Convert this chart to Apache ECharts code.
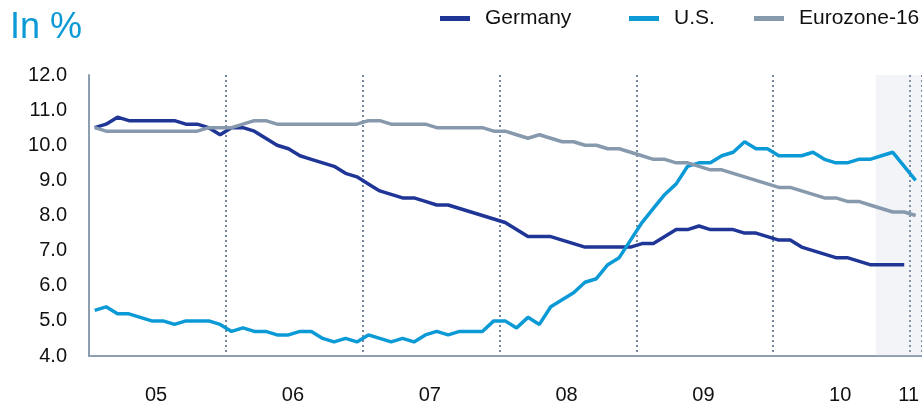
<!DOCTYPE html>
<html>
<head>
<meta charset="utf-8">
<script src="https://cdn.jsdelivr.net/npm/echarts@6/dist/echarts.min.js"></script>
<style>
  html, body { margin: 0; padding: 0; background: #fff; }
  #chart { width: 922px; height: 408px; }
</style>
</head>
<body>
<div id="chart"></div>
<script>
// year tick labels (monthly data, Jan 05 - Jan 11)
var yearLabels = [ '05', '06', '07', '08', '09', '10', '11' ];
var monthNames = [ 'Jan', 'Feb', 'Mar', 'Apr', 'May', 'Jun', 'Jul', 'Aug', 'Sep', 'Oct', 'Nov', 'Dec' ];

// unemployment rate, in %
var germany = [
    10.5, 10.6, 10.8, 10.7, 10.7, 10.7, 10.7, 10.7, 10.6, 10.6, 10.5, 10.3,
    10.5, 10.5, 10.4, 10.2, 10.0, 9.9, 9.7, 9.6, 9.5, 9.4, 9.2, 9.1,
    8.9, 8.7, 8.6, 8.5, 8.5, 8.4, 8.3, 8.3, 8.2, 8.1, 8.0, 7.9,
    7.8, 7.6, 7.4, 7.4, 7.4, 7.3, 7.2, 7.1, 7.1, 7.1, 7.1, 7.1,
    7.2, 7.2, 7.4, 7.6, 7.6, 7.7, 7.6, 7.6, 7.6, 7.5, 7.5, 7.4,
    7.3, 7.3, 7.1, 7.0, 6.9, 6.8, 6.8, 6.7, 6.6, 6.6, 6.6, 6.6,
    null
];
var us = [
    5.3, 5.4, 5.2, 5.2, 5.1, 5.0, 5.0, 4.9, 5.0, 5.0, 5.0, 4.9,
    4.7, 4.8, 4.7, 4.7, 4.6, 4.6, 4.7, 4.7, 4.5, 4.4, 4.5, 4.4,
    4.6, 4.5, 4.4, 4.5, 4.4, 4.6, 4.7, 4.6, 4.7, 4.7, 4.7, 5.0,
    5.0, 4.8, 5.1, 4.9, 5.4, 5.6, 5.8, 6.1, 6.2, 6.6, 6.8, 7.3,
    7.8, 8.2, 8.6, 8.9, 9.4, 9.5, 9.5, 9.7, 9.8, 10.1, 9.9, 9.9,
    9.7, 9.7, 9.7, 9.8, 9.6, 9.5, 9.5, 9.6, 9.6, 9.7, 9.8, 9.4,
    9.0
];
var eurozone = [
    10.5, 10.4, 10.4, 10.4, 10.4, 10.4, 10.4, 10.4, 10.4, 10.4, 10.5, 10.5,
    10.5, 10.6, 10.7, 10.7, 10.6, 10.6, 10.6, 10.6, 10.6, 10.6, 10.6, 10.6,
    10.7, 10.7, 10.6, 10.6, 10.6, 10.6, 10.5, 10.5, 10.5, 10.5, 10.5, 10.4,
    10.4, 10.3, 10.2, 10.3, 10.2, 10.1, 10.1, 10.0, 10.0, 9.9, 9.9, 9.8,
    9.7, 9.6, 9.6, 9.5, 9.5, 9.4, 9.3, 9.3, 9.2, 9.1, 9.0, 8.9,
    8.8, 8.8, 8.7, 8.6, 8.5, 8.5, 8.4, 8.4, 8.3, 8.2, 8.1, 8.1,
    8.0
];

// shaded period, in months from Jan 05
var shadeStart = 69;
var shadeEnd = 73;

var categories = [];
yearLabels.forEach( function( y ) {
    monthNames.forEach( function( m ) {
        categories.push( m + ' ' + y );
    } );
} );
categories = categories.slice( 0, us.length );

var font = "'Liberation Sans', Arial, sans-serif";
var axisColor = '#8d9eb1';
var colors = { germany: '#1f3697', us: '#0b9ad6', euro: '#8799ad' };

var myChart = echarts.init( document.getElementById( 'chart' ) );

function legendAt( name, left ) {
    return {
        data: [ name ],
        left: left,
        top: 3,
        icon: 'rect',
        itemWidth: 30,
        itemHeight: 5,
        textStyle: { fontFamily: font, fontSize: 21, color: '#111', padding: [ 0, 0, 0, 10 ] }
    };
}

var option = {
    animation: false,
    title: {
        text: 'In %',
        left: 5,
        top: 5,
        textStyle: { fontFamily: font, fontSize: 36, fontWeight: 'normal', color: '#0b9ad6' }
    },
    legend: [
        legendAt( 'Germany', 435 ),
        legendAt( 'U.S.', 624 ),
        legendAt( 'Eurozone-16', 749 )
    ],
    grid: { left: 89, top: 75, width: 835, height: 281 },
    xAxis: [ {
        type: 'category',
        data: categories,
        boundaryGap: true,
        axisLine: { lineStyle: { color: axisColor, width: 2 } },
        axisTick: { show: false },
        axisLabel: {
            interval: function( i ) { return i % 12 === 6 || i === 72; },
            formatter: function( v ) { return v.slice( -2 ); },
            fontFamily: font,
            fontSize: 20,
            color: '#111',
            margin: 29,
            padding: [ 0, 14, 0, 0 ]
        },
        splitLine: {
            show: true,
            interval: function( i ) { return i > 0 && i % 12 === 0; },
            lineStyle: { color: '#74879d', width: 2, type: [ 2, 3 ] }
        }
    }, {
        type: 'value',
        min: 0,
        max: 73,
        show: false
    } ],
    yAxis: {
        type: 'value',
        min: 4,
        max: 12,
        interval: 1,
        axisLine: { show: true, lineStyle: { color: axisColor, width: 2 } },
        axisTick: { show: false },
        splitLine: { show: false },
        axisLabel: {
            formatter: function( v ) { return v.toFixed( 1 ); },
            fontFamily: font,
            fontSize: 20,
            color: '#111',
            margin: 22
        }
    },
    series: [ {
        type: 'line',
        xAxisIndex: 1,
        data: [],
        silent: true,
        markArea: {
            silent: true,
            itemStyle: { color: 'rgba(190, 200, 215, 0.2)' },
            data: [ [ { xAxis: shadeStart }, { xAxis: shadeEnd } ] ]
        }
    }, {
        name: 'Germany',
        type: 'line',
        data: germany,
        symbol: 'none',
        color: colors.germany,
        lineStyle: { width: 3.5 }
    }, {
        name: 'U.S.',
        type: 'line',
        data: us,
        symbol: 'none',
        color: colors.us,
        lineStyle: { width: 3.5 }
    }, {
        name: 'Eurozone-16',
        type: 'line',
        data: eurozone,
        symbol: 'none',
        color: colors.euro,
        lineStyle: { width: 3.5 }
    } ]
};

myChart.setOption( option );
</script>
</body>
</html>
